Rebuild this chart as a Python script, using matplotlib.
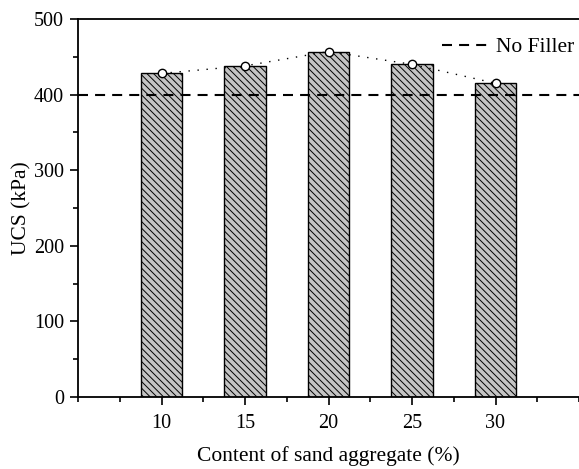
import matplotlib
matplotlib.use("Agg")
import matplotlib.pyplot as plt
from matplotlib.ticker import MultipleLocator

plt.rcParams['font.family'] = ['Liberation Serif', 'DejaVu Serif']
plt.rcParams['font.size'] = 14.5
plt.rcParams['hatch.linewidth'] = 0.7

# Sand aggregate content (%) and unconfined compressive strength (kPa)
sand_content = [10, 15, 20, 25, 30]
ucs_values = [428, 438, 457, 440, 415]
no_filler_ucs = 400

fig = plt.figure(figsize=(5.79, 4.69), dpi=100)
ax = fig.add_axes([78 / 579, 1 - 397 / 469, 1 - 78 / 579, (397 - 19) / 469])

ax.bar(sand_content, ucs_values, width=2.5, color='#c4c4c4', edgecolor='black',
       linewidth=1.0, hatch='\\\\\\\\\\', zorder=2)
ax.plot(sand_content, ucs_values, linestyle=(0, (1, 5.5)), color='black', linewidth=1.0,
        marker='o', markersize=6, markerfacecolor='white', markeredgecolor='black',
        markeredgewidth=1.0, zorder=4)
ax.axhline(no_filler_ucs, color='black', linestyle=(0, (4.8, 3.4)), linewidth=1.5,
           label='No Filler', zorder=3)

ax.set_xlim(5, 35)
ax.set_ylim(0, 500)
ax.yaxis.set_major_locator(MultipleLocator(100))
ax.yaxis.set_minor_locator(MultipleLocator(50))
ax.set_xticks([10, 15, 20, 25, 30])
ax.set_xticks([5, 7.5, 12.5, 17.5, 22.5, 27.5, 32.5, 35], minor=True)

ax.tick_params(axis='both', which='major', direction='out', length=6, width=1.2,
               labelsize=14.5, pad=4)
ax.tick_params(axis='both', which='minor', direction='out', length=3.5, width=1.2)
ax.tick_params(axis='x', which='major', pad=6.5)

for side in ['left', 'bottom', 'top']:
    ax.spines[side].set_linewidth(1.3)
ax.spines['right'].set_visible(False)

ax.set_xlabel('Content of sand aggregate (%)', fontsize=15.5, labelpad=9)
ax.set_ylabel('UCS (kPa)', fontsize=15.5, labelpad=2)

ax.legend(loc='upper right', frameon=False, fontsize=15.5, handlelength=2.1,
          handletextpad=0.42, borderpad=0.2, borderaxespad=0.0,
          bbox_to_anchor=(1.0, 0.963))

fig.savefig('out.png', dpi=100)
